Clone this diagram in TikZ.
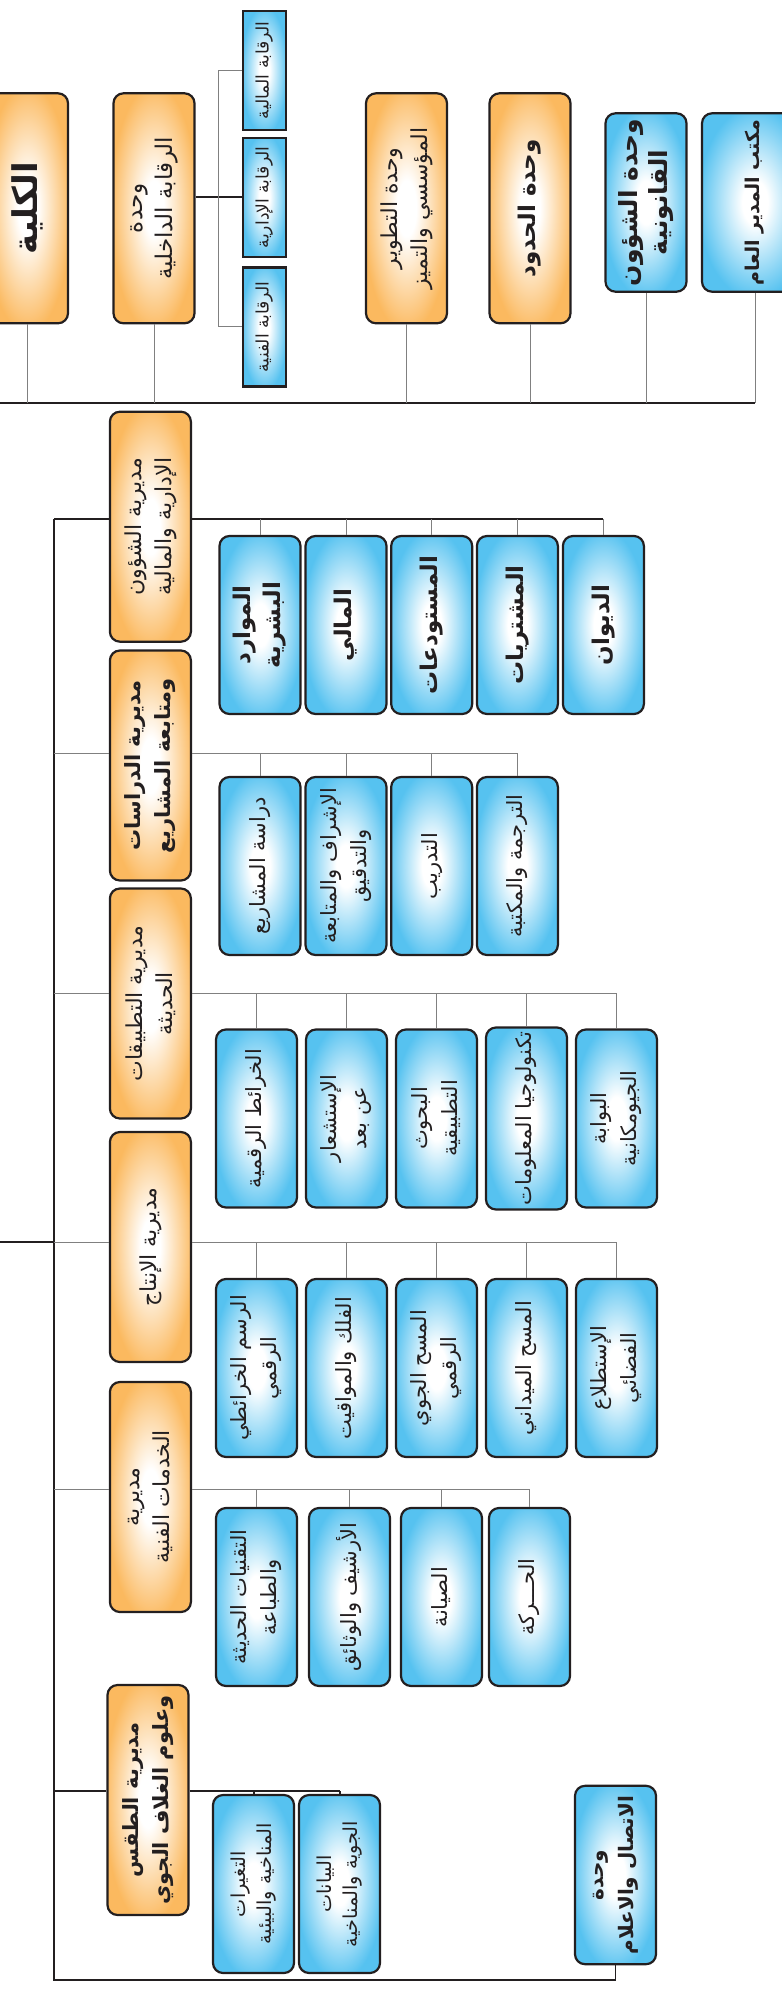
\documentclass[tikz,border=0pt]{standalone}
\usepackage{fontspec}
\usepackage{tikz}
\usetikzlibrary{calc}
\newfontfamily\arabicfont[Script=Arabic]{DejaVu Sans}
\TeXXeTstate=1
\newcommand{\artxt}[1]{\beginR #1\endR}

\definecolor{unitorange}{HTML}{FBB95F}
\definecolor{unitblue}{HTML}{56C2F0}
\definecolor{boxline}{HTML}{231F20}
\definecolor{linkgray}{HTML}{808080}

\pgfdeclareradialshading{orangeglow}{\pgfpoint{0bp}{0bp}}{color(0bp)=(white);
    color(6bp)=(white); color(27bp)=(unitorange); color(50bp)=(unitorange)}
\pgfdeclareradialshading{blueglow}{\pgfpoint{0bp}{0bp}}{color(0bp)=(white);
    color(6bp)=(white); color(27bp)=(unitblue); color(50bp)=(unitblue)}

\tikzset{
  unitbox/.style={draw=boxline, line width=1.1pt, rounded corners=5pt, rotate=90,
    align=center, inner sep=2pt, text=boxline},
  orangebox/.style={unitbox, shade, shading=orangeglow},
  bluebox/.style={unitbox, shade, shading=blueglow},
  ctrlbox/.style={bluebox, sharp corners, minimum width=59.5pt, minimum height=21.5pt,
    font=\arabicfont\fontsize{8.6}{10}\selectfont},
  topsize/.style={minimum width=115pt, minimum height=40.5pt},
  childsize/.style={minimum width=89pt, minimum height=40.5pt},
  plaintext/.style={font=\arabicfont\fontsize{11}{15}\selectfont},
  unittext/.style={font=\arabicfont\fontsize{11.5}{15}\selectfont},
  childtext/.style={font=\arabicfont\fontsize{10.5}{15}\selectfont},
  boldtext/.style={font=\arabicfont\bfseries\fontsize{10.5}{15}\selectfont},
  bigtext/.style={font=\arabicfont\bfseries\fontsize{11.5}{15}\selectfont},
  hugetext/.style={font=\arabicfont\bfseries\fontsize{17}{20}\selectfont},
  smalltext/.style={font=\arabicfont\fontsize{9.6}{13}\selectfont},
  busline/.style={draw=boxline, line width=1pt},
  spineline/.style={draw=boxline, line width=0.8pt},
  linkline/.style={draw=linkgray, line width=0.5pt},
}

\begin{document}
\begin{tikzpicture}[x=0.5pt,y=-0.5pt]
    \useasboundingbox (0,0) rectangle (781,1989);

    % Top level units
    \node[orangebox, topsize, hugetext] (kulliya) at (27.5,208.3) {\artxt{الكلية}};
    \node[orangebox, topsize, unittext] (ctrl) at (154,208.3)
        {\artxt{وحدة}\\\artxt{الرقابة الداخلية}};
    \node[orangebox, topsize, plaintext] (dev) at (406.5,208.3)
        {\artxt{وحدة التطوير}\\\artxt{المؤسسي والتميز}};
    \node[orangebox, topsize, bigtext] (hudud) at (530,208.3) {\artxt{وحدة الحدود}};
    \node[bluebox, minimum width=89.2pt, minimum height=40.5pt, font=\arabicfont\bfseries\fontsize{12.5}{15}\selectfont]
        (legal) at (646,202.5) {\artxt{وحدة الشؤون}\\\artxt{القانونية}};
    \node[bluebox, minimum width=89.2pt, minimum height=53pt, font=\arabicfont\bfseries\fontsize{9.5}{12}\selectfont]
        (gm) at (755,202.5) {\artxt{مكتب المدير العام}};

    % Internal control sections
    \node[ctrlbox] (sub1) at (264.3,70.5) {\artxt{الرقابة المالية}};
    \node[ctrlbox] (sub2) at (264.3,197.2) {\artxt{الرقابة الإدارية}};
    \node[ctrlbox] (sub3) at (264.3,327) {\artxt{الرقابة الفنية}};

    % Directorates
    \node[orangebox, topsize, plaintext] (mA) at (150.4,526.7)
        {\artxt{مديرية الشؤون}\\\artxt{الإدارية والمالية}};
    \node[orangebox, topsize, boldtext] (mS) at (150.4,765.5)
        {\artxt{مديرية الدراسات}\\\artxt{ومتابعة المشاريع}};
    \node[orangebox, topsize, plaintext] (mT) at (150.4,1003.5)
        {\artxt{مديرية التطبيقات}\\\artxt{الحديثة}};
    \node[orangebox, topsize, plaintext] (mP) at (150.4,1247) {\artxt{مديرية الإنتاج}};
    \node[orangebox, topsize, plaintext] (mF) at (150.4,1497)
        {\artxt{مديرية}\\\artxt{الخدمات الفنية}};
    \node[orangebox, topsize, boldtext] (mW) at (148,1800)
        {\artxt{مديرية الطقس}\\\artxt{وعلوم الغلاف الجوي}};

    % Administrative and financial sections
    \node[bluebox, childsize, bigtext] (a1) at (260,625) {\artxt{الموارد}\\\artxt{البشرية}};
    \node[bluebox, childsize, bigtext] (a2) at (346,625) {\artxt{المالي}};
    \node[bluebox, childsize, bigtext] (a3) at (431.7,625) {\artxt{المستودعات}};
    \node[bluebox, childsize, bigtext] (a4) at (517.4,625) {\artxt{المشتريات}};
    \node[bluebox, childsize, bigtext] (a5) at (603.4,625) {\artxt{الديوان}};

    % Studies sections
    \node[bluebox, childsize, childtext] (s1) at (260,866) {\artxt{دراسة المشاريع}};
    \node[bluebox, childsize, childtext] (s2) at (346,866)
        {\artxt{الإشراف والمتابعة}\\\artxt{والتدقيق}};
    \node[bluebox, childsize, childtext] (s3) at (431.7,866) {\artxt{التدريب}};
    \node[bluebox, childsize, childtext] (s4) at (517.4,866) {\artxt{الترجمة والمكتبة}};

    % Modern applications sections
    \node[bluebox, childsize, childtext] (t1) at (256.5,1118.5) {\artxt{الخرائط الرقمية}};
    \node[bluebox, childsize, childtext] (t2) at (346.5,1118.5)
        {\artxt{الإستشعار}\\\artxt{عن بعد}};
    \node[bluebox, childsize, childtext] (t3) at (436.5,1118.5)
        {\artxt{البحوث}\\\artxt{التطبيقية}};
    \node[bluebox, childsize, childtext] (t4) at (526.5,1118.5) {\artxt{تكنولوجيا المعلومات}};
    \node[bluebox, childsize, childtext] (t5) at (616.5,1118.5)
        {\artxt{البوابة}\\\artxt{الجيومكانية}};

    % Production sections
    \node[bluebox, childsize, childtext] (p1) at (256.5,1368)
        {\artxt{الرسم الخرائطي}\\\artxt{الرقمي}};
    \node[bluebox, childsize, childtext] (p2) at (346.5,1368) {\artxt{الفلك والمواقيت}};
    \node[bluebox, childsize, childtext] (p3) at (436.5,1368)
        {\artxt{المسح الجوي}\\\artxt{الرقمي}};
    \node[bluebox, childsize, childtext] (p4) at (526.5,1368) {\artxt{المسح الميداني}};
    \node[bluebox, childsize, childtext] (p5) at (616.5,1368)
        {\artxt{الإستطلاع}\\\artxt{الفضائي}};

    % Technical services sections
    \node[bluebox, childsize, childtext] (f1) at (256.5,1597)
        {\artxt{التقنيات الحديثة}\\\artxt{والطباعة}};
    \node[bluebox, childsize, childtext] (f2) at (349.5,1597) {\artxt{الأرشيف والوثائق}};
    \node[bluebox, childsize, childtext] (f3) at (441.5,1597) {\artxt{الصيانة}};
    \node[bluebox, childsize, childtext] (f4) at (529.5,1597) {\artxt{الحـــركة}};

    % Weather sections
    \node[bluebox, childsize, smalltext] (w1) at (253.5,1884)
        {\artxt{التغيرات}\\\artxt{المناخية والبيئية}};
    \node[bluebox, childsize, smalltext] (w2) at (339.5,1884)
        {\artxt{البيانات}\\\artxt{الجوية والمناخية}};

    % Media unit
    \node[bluebox, minimum width=89.2pt, minimum height=40.5pt, font=\arabicfont\bfseries\fontsize{10}{15}\selectfont]
        (media) at (615.5,1875) {\artxt{وحدة}\\\artxt{الاتصال والاعلام}};

    % Top bus
    \coordinate (topend) at (0,403.5);
    \draw[busline] (topend) -- (topend -| gm.west);
    \foreach \u in {kulliya,ctrl,dev,hudud,legal,gm}
        \draw[linkline] (\u.west) -- (\u.west |- topend);

    % Internal control links
    \draw[busline] (ctrl.south |- sub2) -- (sub2.north);
    \coordinate (ctrlfork) at ($(ctrl.south)!0.5!(sub2.north)$);
    \draw[linkline] (sub1.north) -| (ctrlfork) |- (sub3.north);

    % Spine and feed from the left
    \foreach \d/\y in {A/519,S/753.3,T/993.3,P/1242,F/1489.5,W/1791}
        \coordinate (bus\d) at (54,\y);
    \coordinate (spinebot) at (54,1980);
    \draw[spineline] (busA) -- (spinebot) -| (media.west);
    \coordinate (feed) at (0,1242);
    \draw[busline] (feed) -- (busP);

    % Directorate buses
    \foreach \d/\last/\sty in {A/a5/busline,S/s4/linkline,T/t5/linkline,
                               P/p5/linkline,F/f4/linkline,W/w2/busline} {
        \draw[\sty] (bus\d) -- (bus\d -| m\d.north);
        \draw[\sty] (m\d.south |- bus\d) -- (bus\d -| \last.east);
    }
    \foreach \c in {1,...,5} {
        \draw[linkline] (a\c.east) -- (a\c.east |- busA);
        \draw[linkline] (t\c.east) -- (t\c.east |- busT);
        \draw[linkline] (p\c.east) -- (p\c.east |- busP);
    }
    \foreach \c in {1,...,4} {
        \draw[linkline] (s\c.east) -- (s\c.east |- busS);
        \draw[linkline] (f\c.east) -- (f\c.east |- busF);
    }
    \foreach \c in {1,2}
        \draw[busline] (w\c.east) -- (w\c.east |- busW);
\end{tikzpicture}
\end{document}
